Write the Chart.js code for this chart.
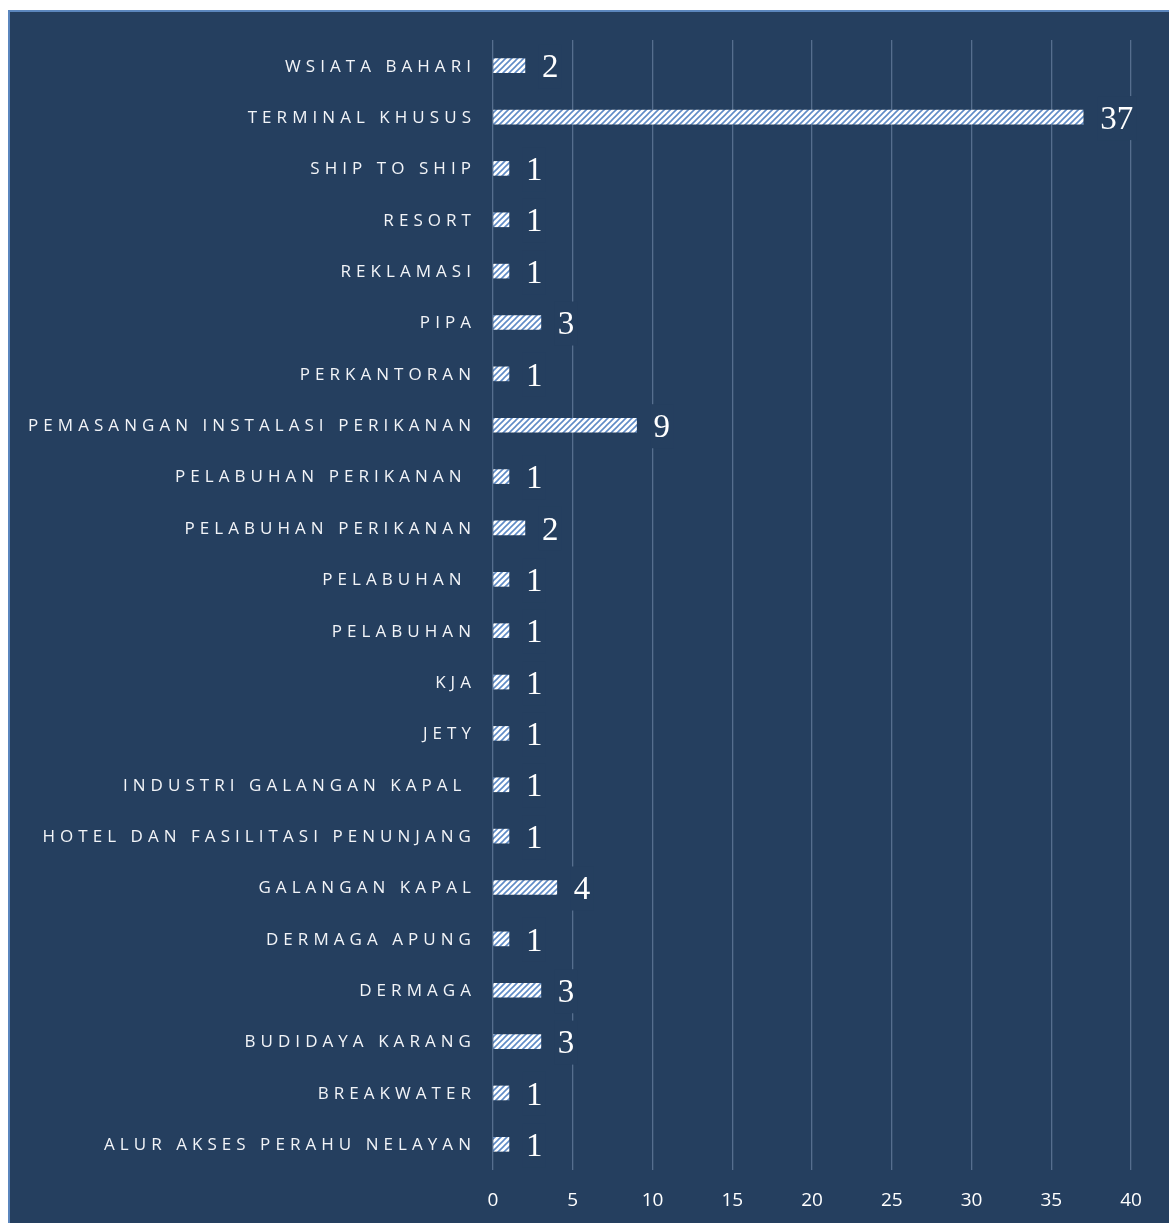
<!DOCTYPE html>
<html lang="id">
<head>
<meta charset="UTF-8">
<title>Jenis Kegiatan</title>
<script src="https://cdn.jsdelivr.net/npm/chart.js"></script>
<style>
  html, body { margin: 0; padding: 0; background: #fff; overflow: hidden; }
  #myChart { position: absolute; left: 0; top: 0; }
</style>
</head>
<body>
<canvas id="myChart" width="1169" height="1223"></canvas>
<script>
  const categories = [
    'WSIATA BAHARI', 'TERMINAL KHUSUS', 'SHIP TO SHIP', 'RESORT', 'REKLAMASI', 'PIPA',
    'PERKANTORAN', 'PEMASANGAN INSTALASI PERIKANAN', 'PELABUHAN PERIKANAN ', 'PELABUHAN PERIKANAN',
    'PELABUHAN ', 'PELABUHAN', 'KJA', 'JETY', 'INDUSTRI GALANGAN KAPAL ',
    'HOTEL DAN FASILITASI PENUNJANG', 'GALANGAN KAPAL', 'DERMAGA APUNG', 'DERMAGA',
    'BUDIDAYA KARANG', 'BREAKWATER', 'ALUR AKSES PERAHU NELAYAN'
  ];
  const counts = [2, 37, 1, 1, 1, 3, 1, 9, 1, 2, 1, 1, 1, 1, 1, 1, 4, 1, 3, 3, 1, 1];
  const xTicks = [0, 5, 10, 15, 20, 25, 30, 35, 40];

  const BG = '#253f5f';
  const FRAME = '#5b86bd';
  const GRID = '#566e8e';

  // hatched fill for the bars
  function makeHatch() {
    const c = document.createElement('canvas');
    c.width = 6; c.height = 6;
    const g = c.getContext('2d');
    g.fillStyle = '#ffffff';
    g.fillRect(0, 0, 6, 6);
    g.strokeStyle = '#5f8bc6';
    g.lineWidth = 1.6;
    g.beginPath();
    g.moveTo(-1, 7); g.lineTo(7, -1);
    g.moveTo(-4, 4); g.lineTo(4, -4);
    g.moveTo(2, 10); g.lineTo(10, 2);
    g.stroke();
    return g.createPattern(c, 'repeat');
  }

  const background = {
    id: 'background',
    beforeDraw(chart) {
      const ctx = chart.ctx;
      ctx.save();
      ctx.fillStyle = '#ffffff';
      ctx.fillRect(0, 0, chart.width, chart.height);
      ctx.fillStyle = FRAME;
      ctx.fillRect(8, 10, chart.width, chart.height);
      ctx.fillStyle = BG;
      ctx.fillRect(10, 12, chart.width, chart.height);
      ctx.restore();
    }
  };

  // spaced-out category names on the left
  const categoryNames = {
    id: 'categoryNames',
    afterDraw(chart) {
      const ctx = chart.ctx;
      const y = chart.scales.y;
      ctx.save();
      ctx.font = '17px "Open Sans"';
      ctx.letterSpacing = '5.05px';
      ctx.fillStyle = '#f2f4f8';
      ctx.textAlign = 'right';
      ctx.textBaseline = 'middle';
      categories.forEach((name, i) => {
        ctx.fillText(name, 476, y.getPixelForValue(i) + 1);
      });
      ctx.restore();
    }
  };

  // value next to each bar, on a patch of background
  const valueLabels = {
    id: 'valueLabels',
    afterDatasetsDraw(chart) {
      const ctx = chart.ctx;
      const meta = chart.getDatasetMeta(0);
      ctx.save();
      ctx.font = '33px "Liberation Serif"';
      ctx.textAlign = 'left';
      ctx.textBaseline = 'middle';
      meta.data.forEach((bar, i) => {
        const txt = String(counts[i]);
        const x = bar.x + 17;
        const w = ctx.measureText(txt).width;
        ctx.fillStyle = BG;
        ctx.fillRect(x - 3, bar.y - 21, w + 6, 44);
        ctx.fillStyle = '#ffffff';
        ctx.fillText(txt, x, bar.y + 3);
      });
      ctx.restore();
    }
  };

  const ctx = document.getElementById('myChart').getContext('2d');
  new Chart(ctx, {
    type: 'bar',
    data: {
      labels: categories,
      datasets: [{
        data: counts,
        backgroundColor: makeHatch(),
        borderWidth: 0,
        barThickness: 14
      }]
    },
    options: {
      indexAxis: 'y',
      responsive: false,
      animation: false,
      devicePixelRatio: 1,
      layout: { padding: { top: 40, right: 38, left: 0, bottom: 0 } },
      plugins: { legend: { display: false }, tooltip: { enabled: false } },
      scales: {
        x: {
          min: 0,
          max: 40,
          afterBuildTicks(scale) { scale.ticks = xTicks.map(v => ({ value: v })); },
          afterFit(scale) { scale.height = 53; },
          grid: { color: GRID, lineWidth: 1.3, drawTicks: false },
          border: { display: false },
          ticks: { color: '#ffffff', font: { family: 'Open Sans', size: 19 }, padding: 19 }
        },
        y: {
          afterFit(scale) { scale.width = 493; },
          grid: { display: false },
          border: { display: false },
          ticks: { display: false }
        }
      }
    },
    plugins: [background, categoryNames, valueLabels]
  });
</script>
</body>
</html>
